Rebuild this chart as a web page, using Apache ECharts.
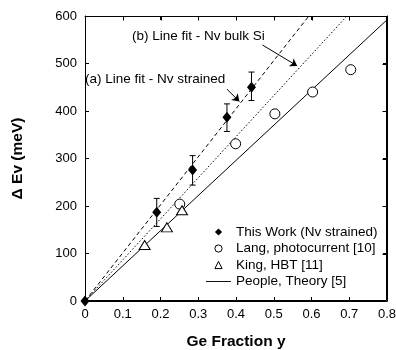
<!DOCTYPE html>
<html>
<head>
<meta charset="utf-8">
<script src="https://cdn.jsdelivr.net/npm/echarts@6/dist/echarts.min.js"></script>
<style>
  html, body { margin: 0; padding: 0; background: #fff; }
  #chart { width: 396px; height: 350px; }
</style>
</head>
<body>
<div id="chart"></div>
<script>
// values
const thisWork = [[0, 0], [0.19, 187], [0.285, 276], [0.376, 387], [0.441, 450]]
const thisWorkErr = [[0.19, 157, 216], [0.285, 244, 306], [0.376, 357, 415], [0.441, 422, 482]]
const lang = [[0.251, 204], [0.399, 331], [0.503, 394], [0.603, 440], [0.704, 487]]
const king = [[0.158, 118], [0.217, 155], [0.257, 191]]
const people = [[0, 0], [0.8, 592]]
const fitStrained = [[0, 0], [0.593, 600]]
const fitBulk = [[0, 0], [0.694, 600]]
const arrowStrained = [[0.376, 446], [0.409, 420]]
const arrowBulk = [[0.47, 539], [0.562, 495]]
const xTicks = [0, 0.1, 0.2, 0.3, 0.4, 0.5, 0.6, 0.7, 0.8]
const yTicks = [0, 100, 200, 300, 400, 500, 600]

const FONT = 'Liberation Sans'
const chart = echarts.init(document.getElementById('chart'))

const axisLine = () => ({ show: true, onZero: false, lineStyle: { color: '#000', width: 1 } })
const axisTick = () => ({ show: true, inside: true, length: 4, lineStyle: { color: '#000', width: 1 } })

const arrow = (pts) => ({
  silent: true,
  symbol: ['none', 'arrow'],
  symbolSize: 7,
  label: { show: false },
  lineStyle: { color: '#000', width: 1, type: 'solid' },
  data: [[{ coord: pts[0] }, { coord: pts[1] }]]
})

const texts = [
  { id: 'tb', type: 'text', left: 132, top: 29, style: { text: '(b) Line fit - Nv bulk Si', fill: '#000', font: '13.5px ' + FONT } },
  { id: 'ta', type: 'text', left: 85, top: 72, style: { text: '(a) Line fit - Nv strained', fill: '#000', font: '13.5px ' + FONT } }
]

chart.setOption({
  animation: false,
  textStyle: { fontFamily: FONT },
  grid: { left: 85, right: 9, top: 16, bottom: 49, outerBoundsMode: 'none', containLabel: false },
  xAxis: [
    {
      type: 'value', min: xTicks[0], max: xTicks[xTicks.length - 1], interval: 0.1,
      axisLine: axisLine(), axisTick: axisTick(), splitLine: { show: false },
      axisLabel: { color: '#000', fontSize: 13, fontFamily: FONT, margin: 7 },
      name: 'Ge Fraction y', nameLocation: 'middle', nameGap: 33,
      nameTextStyle: { color: '#000', fontSize: 15.5, fontWeight: 'bold', fontFamily: FONT }
    },
    {
      type: 'value', position: 'top', min: xTicks[0], max: xTicks[xTicks.length - 1], interval: 0.1,
      axisLine: axisLine(), axisTick: axisTick(), splitLine: { show: false }, axisLabel: { show: false }
    }
  ],
  yAxis: [
    {
      type: 'value', min: yTicks[0], max: yTicks[yTicks.length - 1], interval: 100,
      axisLine: axisLine(), axisTick: axisTick(), splitLine: { show: false },
      axisLabel: { color: '#000', fontSize: 13, fontFamily: FONT, margin: 8 },
      name: 'Δ Ev (meV)', nameLocation: 'middle', nameGap: 59,
      nameTextStyle: { color: '#000', fontSize: 15.5, fontWeight: 'bold', fontFamily: FONT }
    },
    {
      type: 'value', position: 'right', min: yTicks[0], max: yTicks[yTicks.length - 1], interval: 100,
      axisLine: axisLine(), axisTick: axisTick(), splitLine: { show: false }, axisLabel: { show: false }
    }
  ],
  legend: {
    orient: 'vertical',
    left: 206, top: 225, padding: 0,
    itemWidth: 25, itemHeight: 9, itemGap: 2.5,
    textStyle: { color: '#000', fontSize: 13.5, fontFamily: FONT },
    data: [
      { name: 'This Work (Nv strained)' },
      { name: 'Lang, photocurrent [10]', itemStyle: { borderWidth: 1 } },
      { name: 'King, HBT [11]', itemStyle: { borderWidth: 1 } },
      { name: 'People, Theory [5]', icon: 'path://M0,0H27V1H0Z', itemStyle: { color: '#000' } }
    ]
  },
  graphic: texts,
  series: [
    {
      name: 'fit (a)', type: 'line', data: fitStrained, symbol: 'none', z: 2,
      lineStyle: { color: '#000', width: 1, type: [4, 3] },
      markLine: arrow(arrowStrained)
    },
    {
      name: 'fit (b)', type: 'line', data: fitBulk, symbol: 'none', z: 2,
      lineStyle: { color: '#000', width: 1, type: [1.5, 2] },
      markLine: arrow(arrowBulk)
    },
    {
      name: 'People, Theory [5]', type: 'line', data: people, symbol: 'none', z: 2,
      lineStyle: { color: '#000', width: 1 }
    },
    {
      name: 'error', type: 'custom', data: thisWorkErr, z: 3,
      renderItem: (params, api) => {
        const x = api.value(0)
        const lo = api.coord([x, api.value(1)])
        const hi = api.coord([x, api.value(2)])
        const st = { stroke: '#000', lineWidth: 1 }
        return {
          type: 'group',
          children: [
            { type: 'line', shape: { x1: lo[0], y1: lo[1], x2: hi[0], y2: hi[1] }, style: st },
            { type: 'line', shape: { x1: lo[0] - 3, y1: lo[1], x2: lo[0] + 3, y2: lo[1] }, style: st },
            { type: 'line', shape: { x1: hi[0] - 3, y1: hi[1], x2: hi[0] + 3, y2: hi[1] }, style: st }
          ]
        }
      }
    },
    {
      name: 'This Work (Nv strained)', type: 'line', data: thisWork, z: 5,
      symbol: 'diamond', symbolSize: [9, 11],
      itemStyle: { color: '#000' },
      lineStyle: { width: 0, opacity: 0 }
    },
    {
      name: 'Lang, photocurrent [10]', type: 'line', data: lang, z: 5,
      symbol: 'circle', symbolSize: 10,
      itemStyle: { color: '#fff', borderColor: '#000', borderWidth: 1 },
      lineStyle: { width: 0, opacity: 0 }
    },
    {
      name: 'King, HBT [11]', type: 'line', data: king, z: 5,
      symbol: 'triangle', symbolSize: [11, 9],
      itemStyle: { color: '#fff', borderColor: '#000', borderWidth: 1 },
      lineStyle: { width: 0, opacity: 0 }
    }
  ]
})

// plot box and top / right ticks, placed through the axes' own scales
const px = (v) => chart.convertToPixel({ gridIndex: 0 }, v)
const p0 = px([xTicks[0], yTicks[0]])
const p1 = px([xTicks[xTicks.length - 1], yTicks[yTicks.length - 1]])
const L = Math.round(p0[0]) + 0.5
const R = Math.round(p1[0]) - 0.5
const B = Math.round(p0[1]) - 0.5
const T = Math.round(p1[1]) + 0.5
const st = { stroke: '#000', lineWidth: 1, fill: 'none' }
const frame = [{ id: 'box', type: 'rect', z: 100, silent: true, shape: { x: L, y: T, width: R - L, height: B - T }, style: st }]
xTicks.forEach((v, i) => {
  const x = Math.round(px([v, 0])[0]) + 0.5
  frame.push({ id: 'xt' + i, type: 'line', z: 100, silent: true, shape: { x1: x, y1: T, x2: x, y2: T + 4 }, style: st })
})
yTicks.forEach((v, i) => {
  const y = Math.round(px([0, v])[1]) + 0.5
  frame.push({ id: 'yt' + i, type: 'line', z: 100, silent: true, shape: { x1: R, y1: y, x2: R - 4, y2: y }, style: st })
})
chart.setOption({ graphic: texts.concat(frame) })
</script>
</body>
</html>
